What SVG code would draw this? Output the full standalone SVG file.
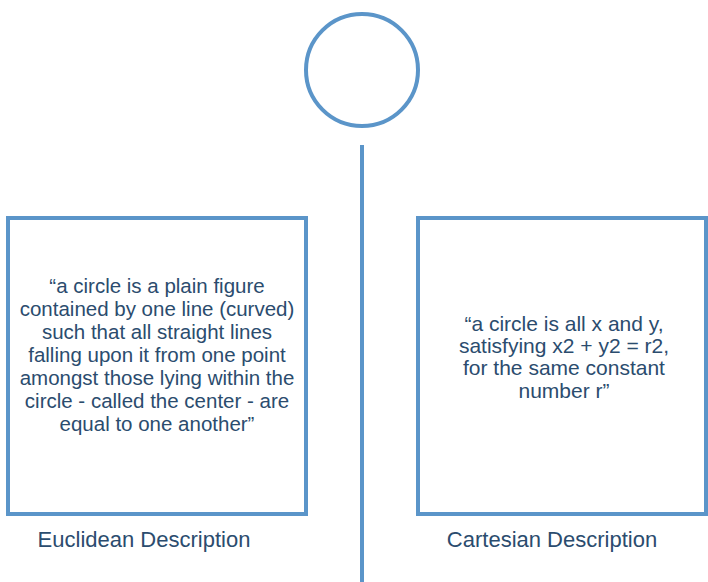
<svg xmlns="http://www.w3.org/2000/svg" width="708" height="582" viewBox="0 0 708 582">
<style>
.shape{fill:none;stroke:#5b95c9;stroke-width:4}
.t{font-family:"Liberation Sans",Arial,sans-serif;font-size:20.5px;fill:#2b4c6e;text-anchor:middle}
.r{font-size:21px}
.lbl{font-size:22px}
</style>
<rect width="708" height="582" fill="#ffffff"/>
<g id="circle"><circle class="shape" cx="362" cy="70" r="56"/></g>
<g id="connectors"><line class="shape" x1="362" y1="145" x2="362" y2="582"/></g>
<g id="euclidean">
<rect class="shape" x="8" y="218" width="298" height="296"/>
<text class="t" x="157" y="293">“a circle is a plain figure</text>
<text class="t" x="157" y="316">contained by one line (curved)</text>
<text class="t" x="157" y="339">such that all straight lines</text>
<text class="t" x="157" y="362">falling upon it from one point</text>
<text class="t" x="157" y="385">amongst those lying within the</text>
<text class="t" x="157" y="408">circle - called the center - are</text>
<text class="t" x="157" y="431">equal to one another”</text>
<text class="t lbl" x="144" y="547">Euclidean Description</text>
</g>
<g id="cartesian">
<rect class="shape" x="418" y="218" width="288" height="296"/>
<text class="t r" x="564" y="331">“a circle is all x and y,</text>
<text class="t r" x="564" y="353">satisfying x2 + y2 = r2,</text>
<text class="t r" x="564" y="375">for the same constant</text>
<text class="t r" x="564" y="398">number r”</text>
<text class="t lbl" x="552" y="547">Cartesian Description</text>
</g>
</svg>
